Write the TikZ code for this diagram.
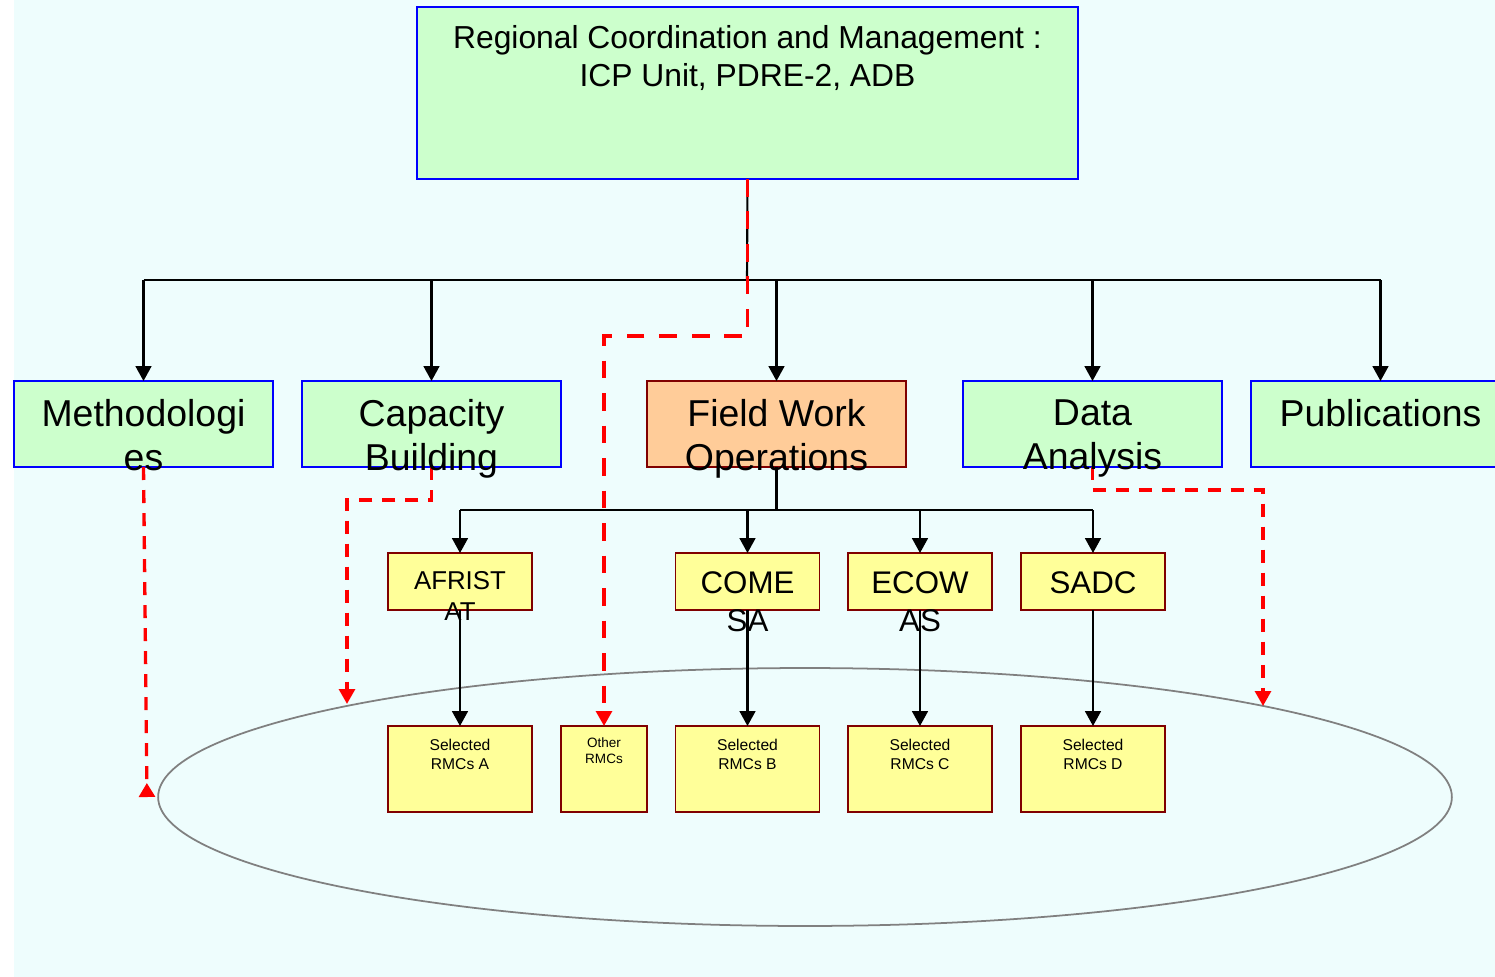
\documentclass[tikz,border=0pt]{standalone}
\usepackage{fontspec}
\setmainfont{Liberation Sans}
\usepackage{tikz}
\usetikzlibrary{arrows.meta,shapes.geometric}

\begin{document}
\begin{tikzpicture}
		[x=0.02cm,y=-0.02cm,line cap=butt,
		%Styles
		box/.style={rectangle,inner sep=0pt,outer sep=0pt,line width=1.1pt},
		green box/.style={box,draw=boxblue,fill=boxgreen,minimum width=5.18cm,minimum height=1.72cm},
		orange box/.style={box,draw=boxred,fill=boxorange,minimum width=5.18cm,minimum height=1.72cm},
		country box/.style={box,draw=boxred,fill=boxyellow,minimum width=2.88cm,minimum height=1.14cm},
		rmc box/.style={box,draw=boxred,fill=boxyellow,minimum width=2.88cm,minimum height=1.72cm},
		head text/.style={align=center,inner sep=0pt,font=\fontsize{18.1}{21.5}\selectfont},
		unit text/.style={align=center,inner sep=0pt,anchor=north,font=\fontsize{21.3}{25}\selectfont},
		country text/.style={align=center,inner sep=0pt,font=\fontsize{17.8}{21.5}\selectfont},
		rmc text/.style={align=center,inner sep=0pt,font=\fontsize{8.9}{10.8}\selectfont},
		link/.style={line width=1.2pt,black},
		arrow/.style={link,-{Triangle[width=9pt,length=8.5pt]}},
		important line/.style={line width=1.9pt,red,dash pattern=on 7.4pt off 5.7pt},
		red arrow/.style={important line,-{Triangle[width=9pt,length=8.5pt]}},
		back arrow/.style={important line,-{Triangle[reversed,width=9pt,length=8pt]}}
		]
		
		%Colors
		\definecolor{boxgreen}{RGB}{204,255,204}
		\definecolor{boxblue}{RGB}{0,0,255}
		\definecolor{boxred}{RGB}{128,0,0}
		\definecolor{boxorange}{RGB}{255,204,153}
		\definecolor{boxyellow}{RGB}{255,255,153}
		\definecolor{paper}{RGB}{238,253,253}
		
		\useasboundingbox (0,0) rectangle (1495,977);
		\clip (0,0) rectangle (1495,977);
		\fill[paper] (14,0) rectangle (1495,977);
		
		%The graphic
		\node[ellipse,draw=gray,line width=1pt,inner sep=0pt,minimum width=25.88cm,minimum height=5.16cm] (ring) at (805,797) {};
		
		\node[green box,minimum width=13.22cm,minimum height=3.44cm] (top) at (747.5,93) {};
		\node[green box] (meth) at (143.5,424) {};
		\node[green box] (cap) at (431.5,424) {};
		\node[orange box] (field) at (776.5,424) {};
		\node[green box] (data) at (1092.5,424) {};
		\node[green box] (pub) at (1380.5,424) {};
		
		\node[country box] (afr) at (460,581.5) {};
		\node[country box] (com) at (747.5,581.5) {};
		\node[country box] (eco) at (920,581.5) {};
		\node[country box] (sadc) at (1093,581.5) {};
		
		\node[rmc box] (rmca) at (460,769) {};
		\node[rmc box,minimum width=1.72cm] (other) at (604,769) {};
		\node[rmc box] (rmcb) at (747.5,769) {};
		\node[rmc box] (rmcc) at (920,769) {};
		\node[rmc box] (rmcd) at (1093,769) {};
		
		%Tree lines
		\coordinate (bus) at (747,280);
		\coordinate (bus2) at (776.5,510);
		\draw[link] (top.south) -- (bus);
		\draw[link] (meth.north |- bus) -- (pub.north |- bus);
		\foreach \n in {meth,cap,field,data,pub}
			\draw[arrow] (\n.north |- bus) -- (\n.north);
		\draw[link] (field.south) -- (bus2);
		\draw[link] (afr.north |- bus2) -- (sadc.north |- bus2);
		\foreach \n in {afr,com,eco,sadc}
			\draw[arrow] (\n.north |- bus2) -- (\n.north);
		\draw[arrow] (afr) -- (rmca);
		\draw[arrow] (com) -- (rmcb);
		\draw[arrow] (eco) -- (rmcc);
		\draw[arrow] (sadc) -- (rmcd);
		
		%Red links
		\coordinate (topbend) at (604,336);
		\coordinate (capbend) at (347,500);
		\coordinate (capend) at (347,704);
		\coordinate (databend) at (1263,490);
		\coordinate (dataend) at (1263,706);
		\coordinate (methend) at (147,797);
		\draw[red arrow,dash pattern=on 10pt off 8.5pt] (top.south) |- (topbend) -- (other.north);
		\draw[red arrow] (cap.south) |- (capbend) -- (capend);
		\draw[red arrow] (data.south) |- (databend) -- (dataend);
		\draw[back arrow] (meth.south) -- (methend);
		
		%Texts
		\node[head text] (toptext) at (747.5,58) {Regional Coordination and Management :\\ICP Unit, PDRE-2, ADB};
		\node[unit text] (methtext) at (143.5,399.5) {Methodologi\\es};
		\node[unit text] (captext) at (431.5,399.5) {Capacity\\Building};
		\node[unit text] (fieldtext) at (776.5,399.5) {Field Work\\Operations};
		\node[unit text] (datatext) at (1092.5,399.5) {Data\\Analysis};
		\node[unit text] (pubtext) at (1380.5,399.5) {Publications};
		\node[country text,font=\fontsize{14.7}{18}\selectfont] (afrtext) at (460,596) {AFRIST\\AT};
		\node[country text] (comtext) at (747.5,602) {COME\\SA};
		\node[country text] (ecotext) at (920,602) {ECOW\\AS};
		\node[country text] (sadctext) at (1093,583) {SADC};
		\node[rmc text] (rmcatext) at (460,754.5) {Selected\\RMCs A};
		\node[rmc text,font=\fontsize{7.7}{9}\selectfont] (othertext) at (604,751) {Other\\RMCs};
		\node[rmc text] (rmcbtext) at (747.5,754.5) {Selected\\RMCs B};
		\node[rmc text] (rmcctext) at (920,754.5) {Selected\\RMCs C};
		\node[rmc text] (rmcdtext) at (1093,754.5) {Selected\\RMCs D};
	\end{tikzpicture}
\end{document}
